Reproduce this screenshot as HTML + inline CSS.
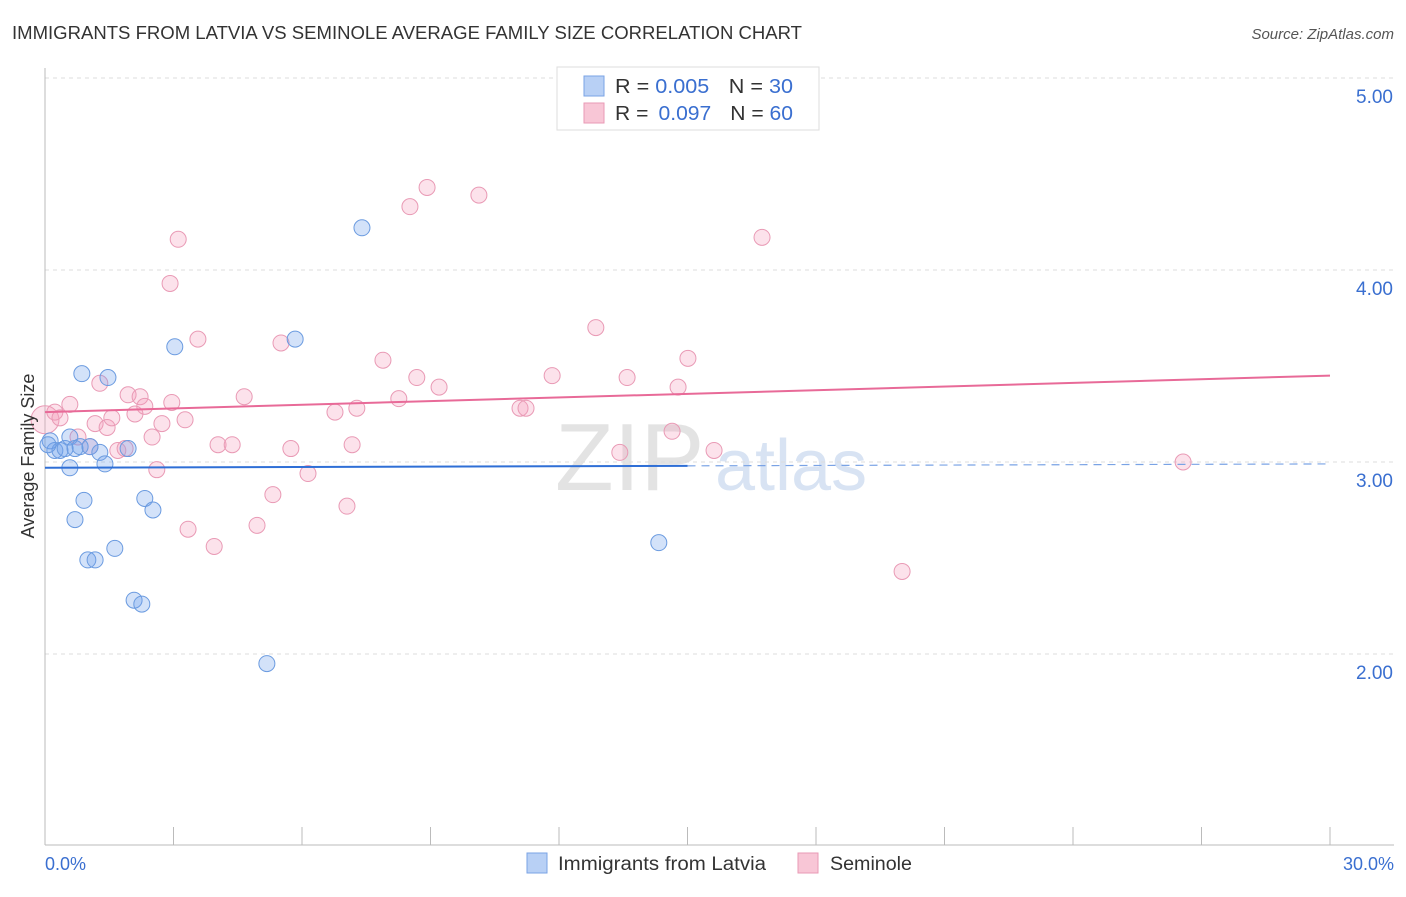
<!DOCTYPE html>
<html><head><meta charset="utf-8"><style>
body{margin:0;background:#fff;font-family:"Liberation Sans",sans-serif}
svg text{font-family:"Liberation Sans",sans-serif}
</style></head><body>
<svg id="chart" width="1406" height="892" xmlns="http://www.w3.org/2000/svg">
<text x="12" y="39" font-size="18" fill="#333" textLength="790" lengthAdjust="spacingAndGlyphs">IMMIGRANTS FROM LATVIA VS SEMINOLE AVERAGE FAMILY SIZE CORRELATION CHART</text>
<text x="1394" y="39" font-size="15" fill="#555" text-anchor="end" font-style="italic">Source: ZipAtlas.com</text>
<text x="555" y="490" font-size="96" fill="#ddd" font-family="Liberation Serif" opacity="0.8">ZIP</text>
<text x="715" y="490" font-size="72" fill="#c8d8ee" opacity="0.7">atlas</text>
<g id="grid"></g>
<g id="axes"></g>
<g id="marks"></g>
<text transform="translate(34,456) rotate(-90)" font-size="18" fill="#333" text-anchor="middle">Average Family Size</text>
<text x="45" y="870" font-size="18" fill="#3a6fd0">0.0%</text>
<text x="1394" y="870" font-size="18" fill="#3a6fd0" text-anchor="end">30.0%</text>
<g>
<rect x="557" y="67" width="262" height="63" fill="#fff" stroke="#ddd"/>
<rect x="584" y="76" width="20" height="20" fill="#b8d0f5" stroke="#7aa3e5"/>
<rect x="584" y="103" width="20" height="20" fill="#f8c6d6" stroke="#e99ab5"/>
<text x="615" y="93" font-size="20" fill="#333" textLength="178" lengthAdjust="spacingAndGlyphs">R = <tspan fill="#3a6fd0">0.005</tspan><tspan dx="18">N = </tspan><tspan fill="#3a6fd0">30</tspan></text>
<text x="615" y="120" font-size="20" fill="#333" textLength="178" lengthAdjust="spacingAndGlyphs">R = <tspan fill="#3a6fd0" dx="4">0.097</tspan><tspan dx="18">N = </tspan><tspan fill="#3a6fd0">60</tspan></text>
</g>
<g>
<rect x="527" y="853" width="20" height="20" fill="#b8d0f5" stroke="#7aa3e5"/>
<text x="558" y="870" font-size="19" fill="#333" textLength="208" lengthAdjust="spacingAndGlyphs">Immigrants from Latvia</text>
<rect x="798" y="853" width="20" height="20" fill="#f8c6d6" stroke="#e99ab5"/>
<text x="830" y="870" font-size="19" fill="#333" textLength="82" lengthAdjust="spacingAndGlyphs">Seminole</text>
</g>
</svg>
<script>
const yTicks=[2,3,4,5];
const yTickLabels=["2.00","3.00","4.00","5.00"];
const blueX=[0.12,0.23,0.35,0.47,0.58,0.70,0.82,0.58,0.86,1.47,1.05,1.28,1.40,1.94,0.91,0.70,1.00,1.17,1.63,2.33,2.52,2.08,2.26,3.03,5.84,7.40,5.18,14.33,0.07];
const blueY=[3.11,3.06,3.06,3.07,3.13,3.07,3.08,2.97,3.46,3.44,3.08,3.05,2.99,3.07,2.80,2.70,2.49,2.49,2.55,2.81,2.75,2.28,2.26,3.60,3.64,4.22,1.95,2.58,3.09];
const pinkX=[0,0.23,0.35,0.58,0.77,1.05,1.17,1.28,1.45,1.56,1.70,1.87,1.94,2.10,2.22,2.33,2.50,2.61,2.73,2.96,3.27,2.92,3.11,3.57,3.34,3.95,4.04,4.37,4.65,4.95,5.32,5.51,5.74,6.14,6.77,7.05,7.17,7.28,7.89,8.26,8.52,8.68,8.92,9.20,10.13,11.09,11.23,11.84,12.86,13.42,13.59,14.64,14.78,15.01,15.62,16.74,20.01,26.57];
const pinkY=[3.22,3.26,3.23,3.30,3.13,3.08,3.20,3.41,3.18,3.23,3.06,3.07,3.35,3.25,3.34,3.29,3.13,2.96,3.20,3.31,3.22,3.93,4.16,3.64,2.65,2.56,3.09,3.09,3.34,2.67,2.83,3.62,3.07,2.94,3.26,2.77,3.09,3.28,3.53,3.33,4.33,3.44,4.43,3.39,4.39,3.28,3.28,3.45,3.70,3.05,3.44,3.16,3.39,3.54,3.06,4.17,2.43,3.00];
const blueTrend=[2.97,2.98,2.99];
const pinkTrend=[3.26,3.45];
const NS="http://www.w3.org/2000/svg";
const xs=v=>45+v/30*1285;
const ys=v=>78+(5-v)*192;
function mk(tag,attrs,parent){const e=document.createElementNS(NS,tag);for(const k in attrs)e.setAttribute(k,attrs[k]);parent.appendChild(e);return e;}
const grid=document.getElementById('grid'),axes=document.getElementById('axes'),marks=document.getElementById('marks');
yTicks.forEach((t,i)=>{
 const l=mk('line',{x1:45,x2:1394,y1:ys(t),y2:ys(t),stroke:'#ddd','stroke-dasharray':'4,4'},grid);
 
 
 const tx=mk('text',{x:1393,y:ys(t)+25,'font-size':19,fill:'#3a6fd0','text-anchor':'end'},grid);
 tx.textContent=yTickLabels[i];
 
 
});
const ya=mk('line',{x1:45,x2:45,y1:68,y2:845,stroke:'#bbb'},axes);


const xa=mk('line',{x1:45,x2:1394,y1:845,y2:845,stroke:'#bbb'},axes);


for(let i=0;i<=10;i++){
 const t=mk('line',{x1:xs(i*3),x2:xs(i*3),y1:827,y2:845,stroke:'#bbb'},axes);
 
 
}
pinkX.forEach((x,i)=>{
 const c=mk('circle',{cx:xs(x),cy:ys(pinkY[i]),r:i===0?14:8,fill:'rgba(244,160,190,0.3)',stroke:'#e99ab5','stroke-width':1},marks);
 
 
});
blueX.forEach((x,i)=>{
 const c=mk('circle',{cx:xs(x),cy:ys(blueY[i]),r:8,fill:'rgba(110,160,235,0.3)',stroke:'#6b9be0','stroke-width':1},marks);
 
 
});
const bt1=mk('line',{x1:xs(0),y1:ys(blueTrend[0]),x2:xs(15),y2:ys(blueTrend[1]),stroke:'#2f6fd6','stroke-width':2},marks);


const bt2=mk('line',{x1:xs(15),y1:ys(blueTrend[1]),x2:xs(30),y2:ys(blueTrend[2]),stroke:'#7aa3e5','stroke-width':1.2,'stroke-dasharray':'8,6'},marks);


const pt=mk('line',{x1:xs(0),y1:ys(pinkTrend[0]),x2:xs(30),y2:ys(pinkTrend[1]),stroke:'#e86a98','stroke-width':2},marks);


</script>
</body></html>
